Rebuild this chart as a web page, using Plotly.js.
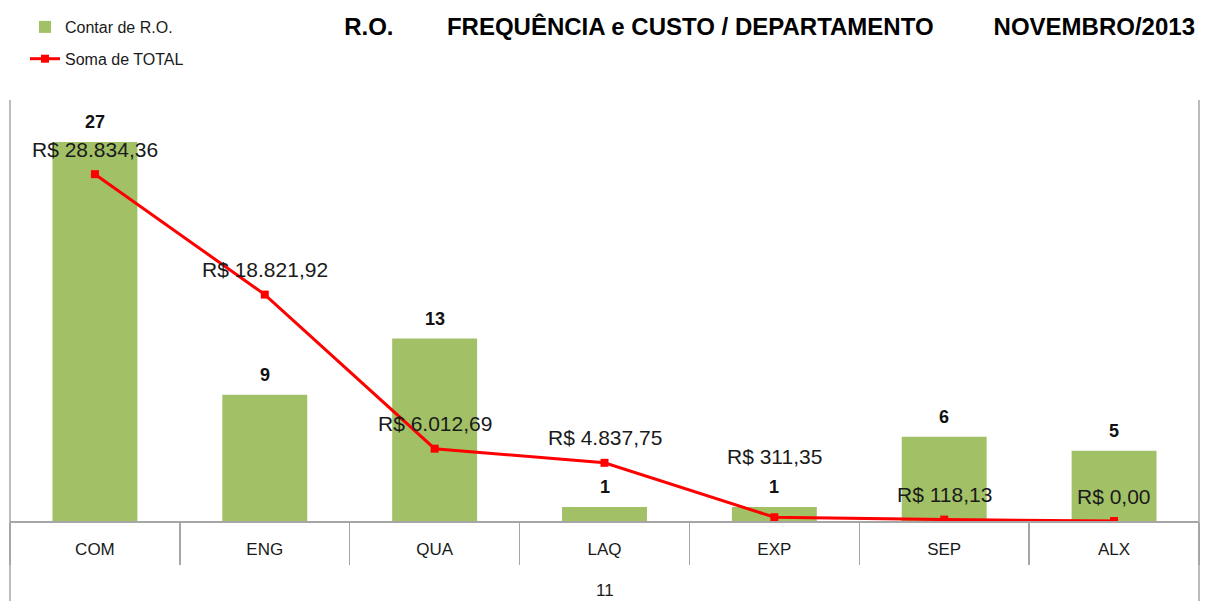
<!DOCTYPE html>
<html>
<head>
<meta charset="utf-8">
<script src="https://cdn.plot.ly/plotly-3.0.1.min.js"></script>
<style>html,body{margin:0;padding:0;background:#fff;}</style>
</head>
<body>
<div id="chart" style="width:1213px;height:601px;"></div>
<script>
// ---- data ----
const categories = ['COM', 'ENG', 'QUA', 'LAQ', 'EXP', 'SEP', 'ALX'];
const countRO = [27, 9, 13, 1, 1, 6, 5];
const totalCost = [28834.36, 18821.92, 6012.69, 4837.75, 311.35, 118.13, 0];
const groupLabel = '11';
const seriesNames = ['Contar de R.O.', 'Soma de TOTAL'];
const titleParts = ['R.O.', 'FREQUÊNCIA e CUSTO / DEPARTAMENTO', 'NOVEMBRO/2013'];

// ---- styling / layout constants ----
const FONT = 'Liberation Sans, Arial, sans-serif';
const W = 1213, H = 601;
const M = {l: 10, r: 14, t: 100, b: 80};
const PLOT_H = H - M.t - M.b;
const BAR_MAX = 30, LINE_MAX = 35000;
const BAR_LABEL_SHIFT = 20, LINE_LABEL_SHIFT = 25;

function brl(v) {
  const parts = v.toFixed(2).split('.');
  return 'R$ ' + parts[0].replace(/\B(?=(\d{3})+(?!\d))/g, '.') + ',' + parts[1];
}

const nb = '\u00a0';
const titleText = titleParts[0] + nb.repeat(8) + titleParts[1] + nb.repeat(9) + titleParts[2];

const traces = [
  {
    type: 'bar', x: categories, y: countRO, name: seriesNames[0], yaxis: 'y',
    marker: {color: '#a2c167'}, legendgroup: 'a', hoverinfo: 'skip'
  },
  {
    type: 'scatter', mode: 'lines+markers', x: categories, y: totalCost, name: seriesNames[1],
    yaxis: 'y2', line: {color: '#ff0000', width: 3},
    marker: {symbol: 'square', size: 8, color: '#ff0000'}, legendgroup: 'b', hoverinfo: 'skip'
  }
];

const annotations = [];
categories.forEach((c, i) => {
  annotations.push({
    x: c, y: countRO[i], xref: 'x', yref: 'y', text: String(countRO[i]), showarrow: false,
    yanchor: 'middle', yshift: BAR_LABEL_SHIFT,
    font: {family: FONT, size: 18, color: '#111', weight: 'bold'}
  });
  // avoid overlap of the cost label with the count label
  const barLabelPx = countRO[i] / BAR_MAX * PLOT_H + BAR_LABEL_SHIFT;
  const linePx = totalCost[i] / LINE_MAX * PLOT_H;
  let shift = LINE_LABEL_SHIFT;
  if (Math.abs(linePx + shift - barLabelPx) < 20) shift = barLabelPx + 30 - linePx;
  annotations.push({
    x: c, y: totalCost[i], xref: 'x', yref: 'y2', text: brl(totalCost[i]), showarrow: false,
    yanchor: 'middle', yshift: shift,
    font: {family: FONT, size: 21, color: '#1a1a1a'}
  });
});
annotations.push({
  x: 0.5, y: -(69 / PLOT_H), xref: 'paper', yref: 'paper', text: groupLabel, showarrow: false,
  yanchor: 'middle', font: {family: FONT, size: 17, color: '#1a1a1a'}
});

const lowY = -(M.b / PLOT_H);
const layout = {
  width: W, height: H,
  margin: M,
  paper_bgcolor: '#ffffff', plot_bgcolor: '#ffffff',
  font: {family: FONT, color: '#1a1a1a'},
  title: {
    text: titleText, x: 1195 / W, xanchor: 'right', xref: 'container',
    y: 1 - 27 / H, yanchor: 'middle', yref: 'container',
    font: {family: FONT, size: 24, color: '#000', weight: 'bold'}
  },
  bargap: 0.5,
  showlegend: true,
  legend: {
    x: 15 / (W - M.l - M.r), y: 1 + 90 / PLOT_H, xanchor: 'left', yanchor: 'top',
    font: {family: FONT, size: 16, color: '#1a1a1a'}, tracegroupgap: 8,
    bgcolor: 'rgba(0,0,0,0)'
  },
  xaxis: {
    type: 'category', showline: true, linecolor: '#a6a6a6', linewidth: 1.5,
    ticks: 'outside', tickson: 'boundaries', ticklen: 42, tickcolor: '#a6a6a6', tickwidth: 1.5,
    ticklabelstandoff: 12, tickfont: {family: FONT, size: 17, color: '#1a1a1a'},
    showgrid: false, zeroline: false, fixedrange: true
  },
  yaxis: {range: [0, BAR_MAX], visible: false, fixedrange: true},
  yaxis2: {range: [0, LINE_MAX], overlaying: 'y', side: 'right', visible: false, fixedrange: true},
  shapes: [
    {type: 'line', xref: 'paper', yref: 'paper', x0: 0, x1: 0, y0: 1, y1: lowY, line: {color: '#a6a6a6', width: 1.5}},
    {type: 'line', xref: 'paper', yref: 'paper', x0: 1, x1: 1, y0: 1, y1: lowY, line: {color: '#a6a6a6', width: 1.5}}
  ],
  annotations: annotations,
  hovermode: false
};

Plotly.newPlot('chart', traces, layout, {displayModeBar: false, staticPlot: true});
</script>
</body>
</html>
